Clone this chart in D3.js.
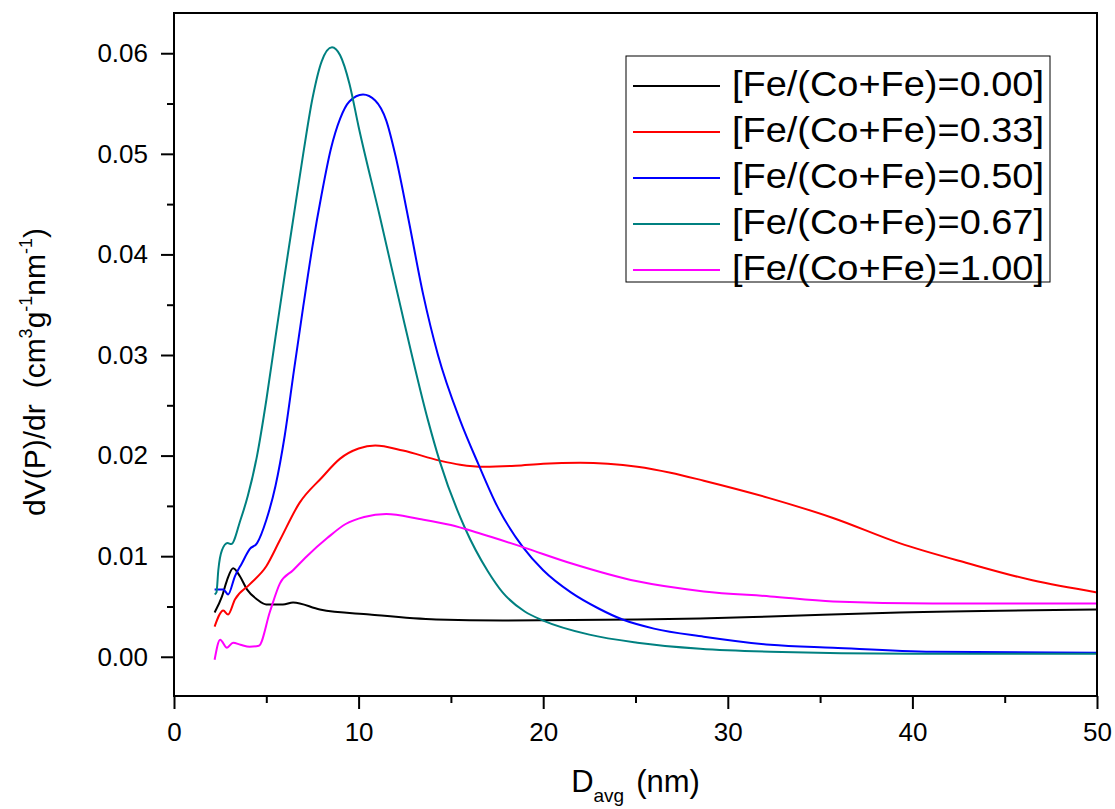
<!DOCTYPE html>
<html>
<head>
<meta charset="utf-8">
<script src="https://cdn.jsdelivr.net/npm/d3@7"></script>
<style>
  html, body { margin: 0; padding: 0; background: #fff; }
  svg { display: block; }
  text { font-family: "Liberation Sans", Arial, sans-serif; fill: #000; }
</style>
</head>
<body>
<svg id="chart" width="1115" height="809"></svg>
<script>
// ---- data ----
const seriesNames = ["[Fe/(Co+Fe)=0.00]", "[Fe/(Co+Fe)=0.33]", "[Fe/(Co+Fe)=0.50]", "[Fe/(Co+Fe)=0.67]", "[Fe/(Co+Fe)=1.00]"];
const seriesColors = ["#000000", "#FF0000", "#0000FF", "#008080", "#FF00FF"];

const xFe000 = [2.2, 2.6, 2.87, 3.2, 3.57, 3.95, 4.5, 5.0, 5.9, 6.45, 7.9, 10.6, 14.2, 17.8, 25.1, 28.5, 32.3, 39.3, 50];
const yFe000 = [0.0044, 0.0060, 0.0076, 0.0088, 0.0080, 0.0067, 0.0057, 0.0052, 0.0052, 0.0054, 0.0047, 0.0042, 0.0037, 0.0036, 0.0037, 0.0038, 0.0040, 0.0044, 0.0047];

const xFe033 = [2.2, 2.67, 2.93, 3.3, 4.1, 5.0, 5.74, 6.8, 8.0, 9.0, 10.0, 10.9, 12.4, 14.4, 15.5, 16.8, 18.5, 20.0, 22.0, 23.5, 25.1, 26.9, 28.7, 32.2, 35.7, 39.3, 43.0, 46.5, 50];
const yFe033 = [0.0030, 0.0046, 0.0042, 0.0057, 0.0072, 0.0090, 0.0116, 0.0153, 0.0178, 0.0197, 0.0207, 0.0210, 0.0205, 0.0195, 0.0191, 0.0189, 0.0190, 0.0192, 0.0193, 0.0192, 0.0189, 0.0183, 0.0175, 0.0158, 0.0138, 0.0113, 0.0093, 0.0076, 0.0064];

const xFe050 = [2.2, 2.67, 2.93, 3.3, 3.68, 4.1, 4.5, 5.0, 5.5, 6.0, 6.5, 7.0, 7.5, 8.0, 8.5, 9.0, 9.5, 10.24, 10.9, 11.5, 12.0, 12.68, 13.5, 14.3, 15.5, 16.5, 17.5, 18.9, 20.0, 21.5, 23.0, 24.3, 26.0, 28.7, 32.3, 35.7, 41.1, 50];
const yFe050 = [0.0067, 0.0067, 0.0062, 0.0080, 0.0093, 0.0107, 0.0113, 0.0136, 0.0170, 0.0220, 0.0285, 0.0348, 0.0408, 0.0460, 0.0505, 0.0535, 0.0552, 0.0559, 0.0553, 0.0533, 0.0498, 0.0437, 0.0360, 0.0300, 0.0235, 0.0191, 0.0150, 0.0109, 0.0086, 0.0064, 0.0048, 0.0037, 0.0028, 0.0020, 0.0012, 0.0009, 0.0005, 0.0004];

const xFe067 = [2.2, 2.3, 2.4, 2.6, 2.9, 3.1, 3.6, 4.0, 4.5, 5.0, 5.5, 6.0, 6.5, 7.0, 7.5, 8.0, 8.56, 9.0, 9.5, 10.0, 11.16, 12.5, 13.76, 14.4, 15.76, 17.0, 17.8, 19.0, 20.0, 22.5, 25.1, 28.5, 32.3, 40, 50];
const yFe067 = [0.0062, 0.0064, 0.0086, 0.0106, 0.0113, 0.0112, 0.0136, 0.0160, 0.0200, 0.0255, 0.0318, 0.0380, 0.0440, 0.0500, 0.0555, 0.0592, 0.0606, 0.0598, 0.0570, 0.0527, 0.0437, 0.0330, 0.0235, 0.0194, 0.0128, 0.0085, 0.0064, 0.0045, 0.0036, 0.0022, 0.0014, 0.0008, 0.0005, 0.0003, 0.0003];

const xFe100 = [2.2, 2.5, 2.87, 3.2, 3.6, 4.1, 4.6, 5.2, 5.74, 6.45, 7.2, 8.3, 9.3, 10.3, 11.5, 13.3, 15.0, 16.5, 18.9, 21.5, 25.1, 28.7, 32.3, 35.7, 41.1, 50];
const yFe100 = [-0.0003, 0.0017, 0.0009, 0.0014, 0.0012, 0.0010, 0.0011, 0.0045, 0.0073, 0.0086, 0.0100, 0.0118, 0.0132, 0.0139, 0.0142, 0.0137, 0.0131, 0.0123, 0.0109, 0.0093, 0.0075, 0.0065, 0.0060, 0.0055, 0.0053, 0.0053];

const xMajorTicks = [0, 10, 20, 30, 40, 50];
const xMinorTicks = [5, 15, 25, 35, 45];
const yMajorTicks = [0.00, 0.01, 0.02, 0.03, 0.04, 0.05, 0.06];
const yMinorTicks = [0.005, 0.015, 0.025, 0.035, 0.045, 0.055];

const seriesX = [xFe000, xFe033, xFe050, xFe067, xFe100];
const seriesY = [yFe000, yFe033, yFe050, yFe067, yFe100];

// ---- layout ----
const svg = d3.select("#chart");
svg.append("rect").attr("width", 1115).attr("height", 809).attr("fill", "#fff");

const L = 174, R = 1097, T = 13, B = 696;
const x = d3.scaleLinear().domain([0, 50]).range([L, R]);
const y = d3.scaleLinear().domain([-0.0039, 0.064]).range([B, T]);

// curves
const line = d3.line().x(d => x(d[0])).y(d => y(d[1])).curve(d3.curveMonotoneX);
seriesX.forEach((xs, i) => {
  const pts = xs.map((v, k) => [v, seriesY[i][k]]);
  svg.append("path").datum(pts)
    .attr("d", line)
    .attr("fill", "none")
    .attr("stroke", seriesColors[i])
    .attr("stroke-width", 2)
    .attr("stroke-linejoin", "round");
});

// axes
function styleAxis(g) {
  g.select(".domain").remove();
  g.selectAll(".tick line").attr("stroke", "#000").attr("stroke-width", 2);
  g.selectAll(".tick text").attr("font-size", 26).attr("fill", "#000")
    .attr("font-family", "'Liberation Sans', Arial, sans-serif");
}
svg.append("g").attr("transform", `translate(0,${B})`)
  .call(d3.axisBottom(x).tickValues(xMajorTicks).tickSize(13).tickPadding(14).tickFormat(d3.format("d")))
  .call(styleAxis);
svg.append("g").attr("transform", `translate(0,${B})`)
  .call(d3.axisBottom(x).tickValues(xMinorTicks).tickSize(7).tickFormat(""))
  .call(styleAxis);
svg.append("g").attr("transform", `translate(${L},0)`)
  .call(d3.axisLeft(y).tickValues(yMajorTicks).tickSize(13).tickPadding(13).tickFormat(d3.format(".2f")))
  .call(styleAxis);
svg.append("g").attr("transform", `translate(${L},0)`)
  .call(d3.axisLeft(y).tickValues(yMinorTicks).tickSize(7).tickFormat(""))
  .call(styleAxis);

// frame
svg.append("rect").attr("x", L).attr("y", T).attr("width", R - L).attr("height", B - T)
  .attr("fill", "none").attr("stroke", "#000").attr("stroke-width", 2);

// x title
const xt = svg.append("text").attr("x", (L + R) / 2).attr("y", 792)
  .attr("text-anchor", "middle").attr("font-size", 31);
xt.append("tspan").text("D");
xt.append("tspan").attr("font-size", 19).attr("dy", 10).text("avg");
xt.append("tspan").attr("dy", -10).attr("dx", 12).text("(nm)");

// y title
const yt = svg.append("text").attr("transform", "translate(45,372) rotate(-90)")
  .attr("text-anchor", "middle").attr("font-size", 30);
yt.append("tspan").text("dV(P)/dr");
yt.append("tspan").attr("dx", 16).text("(cm");
yt.append("tspan").attr("font-size", 18).attr("dy", -13).text("3");
yt.append("tspan").attr("dy", 13).text("g");
yt.append("tspan").attr("font-size", 18).attr("dy", -13).text("-1");
yt.append("tspan").attr("dy", 13).text("nm");
yt.append("tspan").attr("font-size", 18).attr("dy", -13).text("-1");
yt.append("tspan").attr("dy", 13).text(")");

// legend
const lg = svg.append("g");
lg.append("rect").attr("x", 626).attr("y", 56).attr("width", 424).attr("height", 226)
  .attr("fill", "#fff").attr("stroke", "#000").attr("stroke-width", 1);
seriesNames.forEach((name, i) => {
  const cy = 86 + i * 46;
  lg.append("line").attr("x1", 633).attr("x2", 720).attr("y1", cy).attr("y2", cy)
    .attr("stroke", seriesColors[i]).attr("stroke-width", 2);
  lg.append("text").attr("x", 732).attr("y", cy + 10).attr("font-size", 35)
    .attr("textLength", 312).attr("lengthAdjust", "spacingAndGlyphs").text(name);
});
</script>
</body>
</html>
